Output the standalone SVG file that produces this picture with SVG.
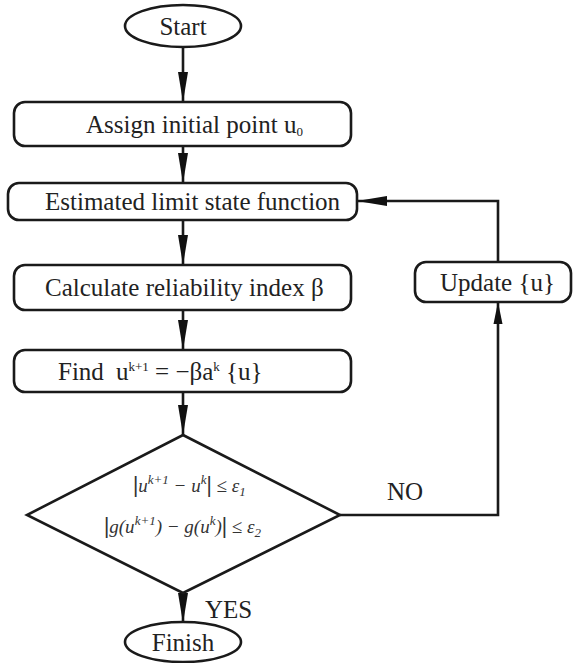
<svg xmlns="http://www.w3.org/2000/svg" width="573" height="663" viewBox="0 0 573 663">
<defs>
<style>
.shape{fill:#fff;stroke:#1a1a1a;stroke-width:2.6}
.line{fill:none;stroke:#1a1a1a;stroke-width:2.6}
.t{font-family:"Liberation Serif","Times New Roman",serif;font-size:25px;fill:#222}
.m{font-family:"Liberation Serif","Times New Roman",serif;font-size:19px;font-style:italic;fill:#333}
.sup{font-size:13px}
</style>
<marker id="ah" viewBox="0 0 30 12" refX="30" refY="6" markerWidth="30" markerHeight="12" markerUnits="userSpaceOnUse" orient="auto">
<path d="M0,1 L30,6 L0,11 Z" fill="#111"/>
</marker>
<marker id="ahs" viewBox="0 0 22 10" refX="22" refY="5" markerWidth="22" markerHeight="10" markerUnits="userSpaceOnUse" orient="auto">
<path d="M0,0.5 L22,5 L0,9.5 Z" fill="#111"/>
</marker>
</defs>
<rect width="573" height="663" fill="#fff"/>
<g id="connectors">
<line class="line" x1="183" y1="48" x2="183" y2="102" marker-end="url(#ah)"/>
<line class="line" x1="183" y1="146" x2="183" y2="183" marker-end="url(#ah)"/>
<line class="line" x1="183" y1="220" x2="183" y2="265" marker-end="url(#ah)"/>
<line class="line" x1="183" y1="310" x2="183" y2="350" marker-end="url(#ah)"/>
<line class="line" x1="183" y1="392" x2="183" y2="435" marker-end="url(#ah)"/>
<line class="line" x1="183" y1="593" x2="183" y2="623" marker-end="url(#ah)"/>
<polyline class="line" points="340,515 498,515 498,302" marker-end="url(#ahs)"/>
<polyline class="line" points="498,262 498,201 357,201" marker-end="url(#ah)"/>
<text class="t" x="387" y="500">NO</text>
<text class="t" x="205" y="618">YES</text>
</g>
<g id="start">
<ellipse class="shape" cx="183" cy="26" rx="58" ry="21"/>
<text class="t" x="183" y="35" text-anchor="middle">Start</text>
</g>
<g id="assign">
<rect class="shape" x="14" y="102" width="337" height="44" rx="11"/>
<text class="t" x="86" y="133">Assign initial point u<tspan class="sup" dy="3">0</tspan></text>
</g>
<g id="estimate">
<rect class="shape" x="8" y="183" width="349" height="37" rx="11"/>
<text class="t" x="45" y="210">Estimated limit state function</text>
</g>
<g id="calculate">
<rect class="shape" x="14" y="265" width="337" height="45" rx="11"/>
<text class="t" x="45" y="296">Calculate reliability index β</text>
</g>
<g id="find">
<rect class="shape" x="14" y="350" width="337" height="42" rx="11"/>
<text class="t" x="58" y="380">Find<tspan x="116">u</tspan><tspan class="sup" dy="-9">k+1</tspan><tspan dy="9"> = −βa</tspan><tspan class="sup" dy="-9">k</tspan><tspan dy="9"> {u}</tspan></text>
</g>
<g id="update">
<rect class="shape" x="415" y="262" width="156" height="40" rx="11"/>
<text class="t" x="440" y="291">Update {u}</text>
</g>
<g id="decision">
<polygon class="shape" points="183,435 340,515 183,593 27,515"/>
<text class="m" x="133" y="492"><tspan font-style="normal" font-weight="bold" font-size="24">|</tspan>u<tspan class="sup" dy="-8">k+1</tspan><tspan dy="8"> − u</tspan><tspan class="sup" dy="-8">k</tspan><tspan dy="8" font-style="normal" font-weight="bold" font-size="24">|</tspan><tspan font-style="normal"> ≤ </tspan>ε<tspan class="sup" dy="4">1</tspan></text>
<text class="m" x="104" y="533"><tspan font-style="normal" font-weight="bold" font-size="24">|</tspan>g(u<tspan class="sup" dy="-8">k+1</tspan><tspan dy="8">) −  g(u</tspan><tspan class="sup" dy="-8">k</tspan><tspan dy="8">)</tspan><tspan font-style="normal" font-weight="bold" font-size="24">|</tspan><tspan font-style="normal"> ≤ </tspan>ε<tspan class="sup" dy="4">2</tspan></text>
</g>
<g id="finish">
<ellipse class="shape" cx="183" cy="642" rx="58" ry="20"/>
<text class="t" x="183" y="651" text-anchor="middle">Finish</text>
</g>
</svg>
